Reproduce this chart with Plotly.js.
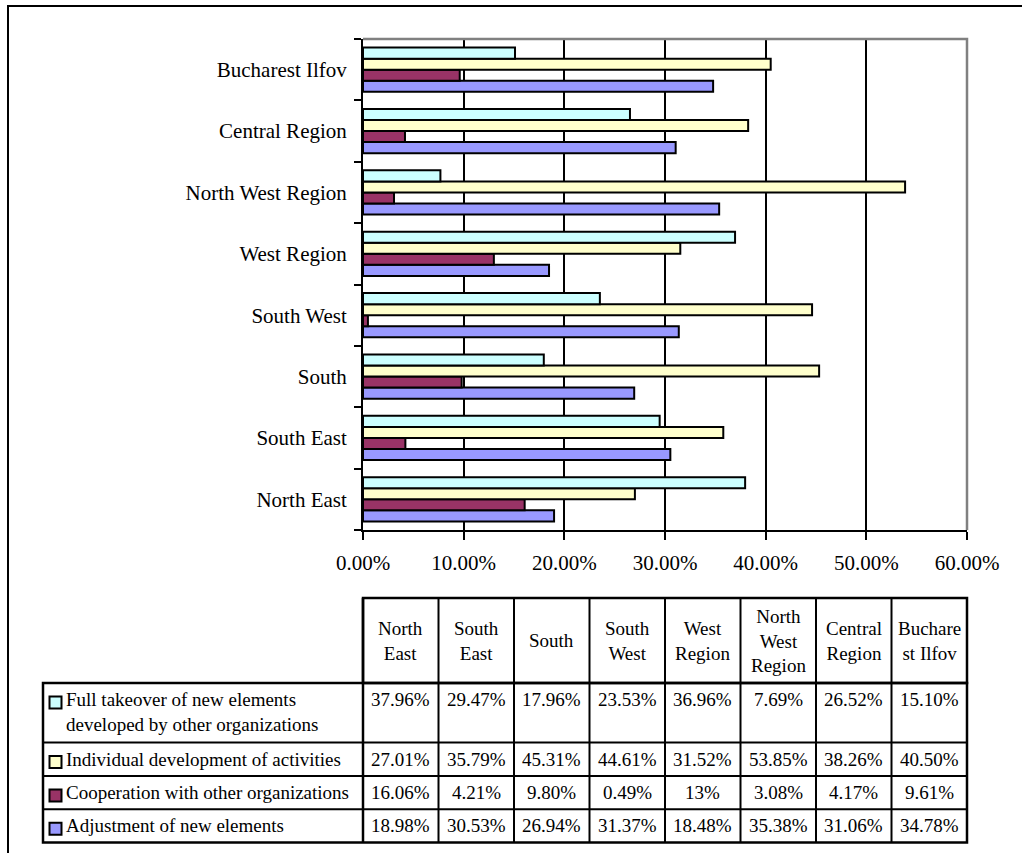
<!DOCTYPE html>
<html>
<head>
<meta charset="utf-8">
<script src="https://cdn.plot.ly/plotly-3.0.1.min.js"></script>
<style>
  html, body { margin: 0; padding: 0; background: #ffffff; }
  #chart { width: 1022px; height: 853px; }
</style>
</head>
<body>
<div id="chart"></div>
<script>
// Regions, bottom to top on the category axis and left to right in the data table
const regions = ['North East', 'South East', 'South', 'South West', 'West Region',
                 'North West Region', 'Central Region', 'Bucharest Ilfov'];
// Header captions of the data table, wrapped as printed
const headerLabels = ['North<br>East', 'South<br>East', 'South', 'South<br>West', 'West<br>Region',
                      'North<br>West<br>Region', 'Central<br>Region', 'Buchare<br>st Ilfov'];

// Shares (%) per region
const fullTakeover          = [37.96, 29.47, 17.96, 23.53, 36.96, 7.69, 26.52, 15.10];
const individualDevelopment = [27.01, 35.79, 45.31, 44.61, 31.52, 53.85, 38.26, 40.50];
const cooperation           = [16.06, 4.21, 9.80, 0.49, 13, 3.08, 4.17, 9.61];
const adjustment            = [18.98, 30.53, 26.94, 31.37, 18.48, 35.38, 31.06, 34.78];

// Value axis ticks (%)
const xTicks = [0, 10, 20, 30, 40, 50, 60];

// Series in drawing order (first = lowest bar of each group)
const series = [
  { name: 'Adjustment of new elements', label: 'Adjustment of new elements',
    values: adjustment, color: '#9999FF' },
  { name: 'Cooperation with other organizations', label: 'Cooperation with other organizations',
    values: cooperation, color: '#993366' },
  { name: 'Individual development of activities', label: 'Individual development of activities',
    values: individualDevelopment, color: '#FFFFCC' },
  { name: 'Full takeover of new elements developed by other organizations',
    label: 'Full takeover of new elements<br>developed by other organizations',
    values: fullTakeover, color: '#CCFFFF' }
];

const FONT = 'Liberation Serif, Times New Roman, serif';
const W = 1022, H = 853;
const M = { l: 363, r: 55, t: 39, b: 323 };
const plotW = W - M.l - M.r, plotH = H - M.t - M.b;

// pixel position -> paper coordinate
const px = x => (x - M.l) / plotW;
const py = y => (H - M.b - y) / plotH;

const fmt = v => (Number.isInteger(v) ? String(v) : v.toFixed(2)) + '%';

const traces = series.map(s => ({
  type: 'bar',
  orientation: 'h',
  name: s.name,
  y: regions,
  x: s.values,
  marker: { color: s.color, line: { color: '#000000', width: 2 } },
  hovertemplate: '%{y}: %{x:.2f}%<extra>' + s.name + '</extra>'
}));

const shapes = [];
const annotations = [];

// outer frame of the figure
shapes.push({ type: 'rect', xref: 'paper', yref: 'paper',
  x0: px(8), x1: px(1040), y0: py(6), y1: py(880),
  line: { color: '#000000', width: 2 }, fillcolor: 'rgba(0,0,0,0)', layer: 'above' });

// grey top and right edges of the plot area
shapes.push({ type: 'path', xref: 'paper', yref: 'paper',
  path: 'M 0 1 L 1 1 L 1 0', line: { color: '#808080', width: 2.5 }, layer: 'above' });

// ---- data table below the chart ----
const nCols = regions.length;
const colX = k => k / nCols;                 // column edges share the value axis span
const tbl = { labelLeft: 43, headTop: 598, bodyTop: 683, lineH: 26.3, rowBase: 33.3 };
const rows = series.slice().reverse();       // table rows: top series first
const rowTops = [];
let yCur = tbl.bodyTop;
rows.forEach(r => {
  rowTops.push(yCur);
  const lines = r.label.split('<br>').length;
  yCur += tbl.rowBase + (lines - 1) * tbl.lineH;
});
const tableBottom = yCur;

const lineShape = (x0, y0, x1, y1, w) => ({ type: 'line', xref: 'paper', yref: 'paper',
  x0, y0, x1, y1, line: { color: '#000000', width: w }, layer: 'above' });

// header grid
for (let k = 1; k < nCols; k++) {
  shapes.push(lineShape(colX(k), py(tbl.headTop), colX(k), py(tableBottom), 2));
}
// body row separators
for (let i = 1; i < rows.length; i++) {
  shapes.push(lineShape(px(tbl.labelLeft), py(rowTops[i]), 1, py(rowTops[i]), 2));
}
// separator between label column and values
shapes.push(lineShape(0, py(tbl.headTop), 0, py(tableBottom), 2.5));
// outer borders
shapes.push({ type: 'rect', xref: 'paper', yref: 'paper',
  x0: 0, x1: 1, y0: py(tbl.bodyTop), y1: py(tbl.headTop),
  line: { color: '#000000', width: 2.5 }, fillcolor: 'rgba(0,0,0,0)', layer: 'above' });
shapes.push({ type: 'rect', xref: 'paper', yref: 'paper',
  x0: px(tbl.labelLeft), x1: 1, y0: py(tableBottom), y1: py(tbl.bodyTop),
  line: { color: '#000000', width: 2.5 }, fillcolor: 'rgba(0,0,0,0)', layer: 'above' });

const cellFont = { family: FONT, size: 19, color: '#000000' };

// header captions
headerLabels.forEach((h, k) => {
  annotations.push({ xref: 'paper', yref: 'paper', showarrow: false,
    x: (colX(k) + colX(k + 1)) / 2, y: py((tbl.headTop + tbl.bodyTop) / 2),
    xanchor: 'center', yanchor: 'middle', align: 'center', text: h, font: cellFont });
});

// body rows: legend key, series label, values
rows.forEach((r, i) => {
  const top = rowTops[i];
  shapes.push({ type: 'rect', xref: 'paper', yref: 'paper',
    x0: px(49.5), x1: px(61.5), y0: py(top + 25.5), y1: py(top + 13.5),
    fillcolor: r.color, line: { color: '#000000', width: 2 }, layer: 'above' });
  annotations.push({ xref: 'paper', yref: 'paper', showarrow: false,
    x: px(64), y: py(top + 4), xanchor: 'left', yanchor: 'top', align: 'left',
    text: r.label, font: cellFont });
  r.values.forEach((v, k) => {
    annotations.push({ xref: 'paper', yref: 'paper', showarrow: false,
      x: (colX(k) + colX(k + 1)) / 2, y: py(top + 4), xanchor: 'center', yanchor: 'top',
      align: 'center', text: fmt(v), font: cellFont });
  });
});

const axisFont = { family: FONT, size: 21, color: '#000000' };

const layout = {
  width: W, height: H,
  margin: M,
  paper_bgcolor: '#ffffff', plot_bgcolor: '#ffffff',
  barmode: 'group', bargap: 0.28, bargroupgap: 0,
  showlegend: false,
  xaxis: {
    range: [xTicks[0], xTicks[xTicks.length - 1]],
    tickmode: 'array', tickvals: xTicks, ticktext: xTicks.map(v => v.toFixed(2) + '%'),
    showgrid: true, gridcolor: '#000000', gridwidth: 2,
    zeroline: false, showline: true, linecolor: '#000000', linewidth: 2,
    ticks: 'outside', ticklen: 8, tickwidth: 2, tickcolor: '#000000',
    ticklabelstandoff: 5,
    tickfont: axisFont, fixedrange: true
  },
  yaxis: {
    type: 'category', categoryorder: 'array', categoryarray: regions,
    tickson: 'boundaries', ticks: 'outside', ticklen: 7, tickwidth: 2, tickcolor: '#000000',
    ticklabelstandoff: 10,
    showgrid: false, zeroline: false, showline: true, linecolor: '#000000', linewidth: 2,
    tickfont: axisFont, fixedrange: true
  },
  shapes, annotations
};

Plotly.newPlot('chart', traces, layout, { displayModeBar: false, staticPlot: true });
</script>
</body>
</html>
